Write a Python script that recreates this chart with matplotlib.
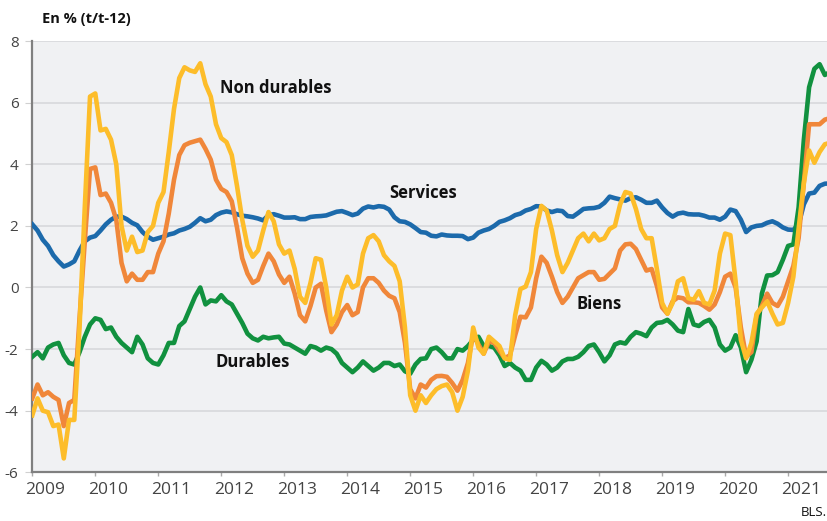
import matplotlib
matplotlib.use("Agg")
import matplotlib.pyplot as plt
import numpy as np

# Monthly data, Jan 2009 onwards (y/y-12, %)
services = [2.05, 1.85, 1.55, 1.35, 1.05, 0.85, 0.68, 0.75, 0.85, 1.2,
            1.5, 1.62, 1.67, 1.85, 2.05, 2.2, 2.3, 2.3, 2.22, 2.1,
            2.02, 1.8, 1.65, 1.55, 1.6, 1.65, 1.72, 1.76, 1.85, 1.9,
            1.97, 2.1, 2.25, 2.15, 2.2, 2.35, 2.43, 2.47, 2.44, 2.38,
            2.33, 2.31, 2.28, 2.24, 2.18, 2.35, 2.38, 2.33, 2.27, 2.27,
            2.28, 2.22, 2.22, 2.29, 2.31, 2.32, 2.34, 2.4, 2.46, 2.48,
            2.42, 2.35, 2.4, 2.56, 2.63, 2.6, 2.64, 2.62, 2.53, 2.28,
            2.15, 2.13, 2.05, 1.93, 1.8, 1.78, 1.68, 1.66, 1.72, 1.69,
            1.68, 1.68, 1.67, 1.57, 1.62, 1.78, 1.85, 1.9, 2.0, 2.13,
            2.18, 2.25, 2.35, 2.4, 2.5, 2.55, 2.64, 2.63, 2.5, 2.45,
            2.5, 2.48, 2.32, 2.3, 2.42, 2.55, 2.57, 2.58, 2.62, 2.75,
            2.95, 2.9, 2.86, 2.82, 2.9, 2.93, 2.85, 2.75, 2.75, 2.82,
            2.6, 2.42, 2.3, 2.4, 2.43, 2.38, 2.37, 2.37, 2.33, 2.27,
            2.27, 2.2, 2.3, 2.53, 2.48, 2.2, 1.8, 1.95, 2.0, 2.02,
            2.1, 2.15, 2.07, 1.95, 1.88, 1.87, 2.05, 2.7, 3.05, 3.08,
            3.3, 3.37, 3.38]

durables = [-2.25, -2.1, -2.3, -1.95, -1.85, -1.8, -2.2, -2.45, -2.5, -2.1,
            -1.6, -1.2, -1.0, -1.05, -1.35, -1.3, -1.6, -1.8, -1.95, -2.1,
            -1.6, -1.85, -2.3, -2.45, -2.5, -2.2, -1.8, -1.8, -1.25, -1.1,
            -0.7, -0.3, 0.0, -0.55, -0.42, -0.45, -0.25, -0.45, -0.55, -0.85,
            -1.15, -1.5, -1.65, -1.72, -1.6, -1.65, -1.62, -1.6, -1.82, -1.85,
            -1.95, -2.05, -2.15, -1.9, -1.95, -2.05, -1.95, -2.0, -2.15, -2.45,
            -2.6, -2.75, -2.6, -2.4, -2.55, -2.7, -2.6, -2.45, -2.45, -2.55,
            -2.5, -2.72, -2.8, -2.5, -2.32, -2.3, -2.0, -1.95, -2.1, -2.3,
            -2.3, -2.0, -2.05, -1.9, -1.7, -1.6, -1.9, -1.9, -1.95, -2.2,
            -2.55, -2.45, -2.6, -2.7, -3.0, -3.0, -2.6, -2.38, -2.5, -2.7,
            -2.6, -2.4, -2.32, -2.32, -2.25, -2.1, -1.9, -1.85, -2.1, -2.4,
            -2.2, -1.85, -1.78, -1.82, -1.6, -1.45, -1.5, -1.58, -1.3, -1.15,
            -1.13, -1.05, -1.2, -1.4, -1.45, -0.7, -1.2, -1.25, -1.12, -1.05,
            -1.3, -1.85, -2.05, -1.95, -1.55, -1.95, -2.75, -2.35, -1.75, -0.2,
            0.39, 0.4, 0.5, 0.9, 1.35, 1.4, 2.6, 4.8, 6.5, 7.1,
            7.25, 6.9, 7.0]

biens = [-3.6, -3.15, -3.5, -3.4, -3.55, -3.65, -4.5, -3.75, -3.65, -1.0,
         1.5, 3.85, 3.9, 3.0, 3.05, 2.75, 2.2, 0.8, 0.2, 0.45,
         0.25, 0.25, 0.5, 0.5, 1.1, 1.5, 2.4, 3.5, 4.3, 4.62,
         4.7, 4.75, 4.8, 4.5, 4.15, 3.5, 3.2, 3.1, 2.8, 1.95,
         0.95, 0.45, 0.15, 0.25, 0.7, 1.1, 0.85, 0.42, 0.15, 0.35,
         -0.2, -0.9, -1.1, -0.6, 0.0, 0.12, -0.75, -1.45, -1.2, -0.8,
         -0.57, -0.9, -0.8, 0.0, 0.3, 0.3, 0.15, -0.1, -0.27, -0.35,
         -0.8, -1.8, -3.3, -3.6, -3.15, -3.25, -3.0, -2.88, -2.87, -2.9,
         -3.1, -3.35, -3.0, -2.45, -1.5, -1.85, -2.15, -1.75, -1.8, -2.05,
         -2.3, -2.2, -1.55, -0.95, -0.97, -0.65, 0.3, 1.0, 0.8, 0.35,
         -0.15, -0.5, -0.3, 0.0, 0.3, 0.4, 0.5, 0.5, 0.25, 0.28,
         0.45, 0.62, 1.2, 1.4, 1.42, 1.25, 0.9, 0.55, 0.6, 0.05,
         -0.65, -0.85, -0.45, -0.32, -0.35, -0.48, -0.48, -0.5, -0.6, -0.72,
         -0.55, -0.15, 0.35, 0.45, 0.0, -1.3, -2.25, -2.1, -0.9, -0.6,
         -0.2, -0.5, -0.6, -0.3, 0.2, 0.7, 1.6, 3.4, 5.3, 5.3,
         5.3, 5.45, 5.5]

non_durables = [-4.15, -3.6, -4.0, -4.05, -4.5, -4.45, -5.55, -4.3, -4.3, -1.3,
                2.6, 6.2, 6.3, 5.1, 5.15, 4.8, 4.0, 2.0, 1.2, 1.65,
                1.15, 1.2, 1.8, 2.0, 2.75, 3.1, 4.4, 5.8, 6.8, 7.15,
                7.05, 7.0, 7.28, 6.6, 6.2, 5.3, 4.85, 4.72, 4.3, 3.3,
                2.2, 1.35, 1.0, 1.2, 1.85, 2.45, 2.15, 1.4, 1.1, 1.2,
                0.6, -0.3, -0.5, 0.15, 0.95, 0.9, 0.0, -1.2, -0.9, -0.1,
                0.35, 0.0, 0.1, 1.1, 1.6, 1.7, 1.5, 1.05, 0.85, 0.7,
                0.2, -1.3, -3.5, -4.0, -3.5, -3.75, -3.5, -3.3, -3.2, -3.15,
                -3.4, -4.0, -3.55, -2.7, -1.3, -1.95, -2.15, -1.6, -1.75, -1.9,
                -2.3, -2.35, -0.9, -0.05, 0.03, 0.5, 1.9, 2.65, 2.5, 1.85,
                1.05, 0.5, 0.8, 1.2, 1.6, 1.75, 1.5, 1.75, 1.53, 1.6,
                1.9, 2.0, 2.7, 3.1, 3.05, 2.55, 1.9, 1.6, 1.6, 0.6,
                -0.5, -0.85, -0.5, 0.2, 0.3, -0.35, -0.4, -0.12, -0.5, -0.55,
                -0.1, 1.1, 1.75, 1.7, 0.2, -1.7, -2.3, -1.8, -0.85, -0.65,
                -0.45, -0.85, -1.2, -1.15, -0.5, 0.35, 1.9, 3.4, 4.45, 4.05,
                4.4, 4.65, 4.7]

years = [str(y) for y in range(2009, 2022)]
months = np.arange(len(services))

plt.rcParams['font.family'] = ['Open Sans', 'DejaVu Sans']

fig = plt.figure(figsize=(8.28, 5.21), dpi=100)
ax = fig.add_axes([0.039, 0.0935, 0.961, 0.8276])
ax.set_facecolor('#f0f1f3')

lw = 3.3
ax.plot(months, services, color='#1c6aab', lw=lw, zorder=3, solid_joinstyle='round')
ax.plot(months, durables, color='#11913f', lw=lw, zorder=4, solid_joinstyle='round')
ax.plot(months, biens, color='#f0873a', lw=lw, zorder=5, solid_joinstyle='round')
ax.plot(months, non_durables, color='#fdbd2a', lw=lw, zorder=6, solid_joinstyle='round')

ax.set_xlim(0, 151.6)
ax.set_ylim(-6, 8)

# y axis
ax.set_yticks(np.arange(-6, 9, 2))
ax.set_yticklabels([str(v) for v in range(-6, 9, 2)])
ax.yaxis.grid(True, color='#d9dadd', lw=1.3)
ax.set_axisbelow(True)
ax.tick_params(axis='y', length=5, color='#d0d0d0', pad=5, labelsize=11, labelcolor='#444444')

# x axis: year ticks at January, labels slightly shifted
ax.set_xticks(np.arange(0, 12 * len(years), 12))
ax.set_xticklabels([])
ax.tick_params(axis='x', which='major', length=3, color='#aaaaaa', width=1)
ax.set_xticks(np.arange(0, 12 * len(years), 12) + 2.4, minor=True)
ax.set_xticklabels(years, minor=True)
ax.tick_params(axis='x', which='minor', length=0, pad=7, labelsize=12.5, labelcolor='#444444')

for s in ['top', 'right']:
    ax.spines[s].set_visible(False)
for s in ['left', 'bottom']:
    ax.spines[s].set_color('#808080')
    ax.spines[s].set_linewidth(1.6)

lab = dict(fontsize=12, fontweight='bold', color='#111111', va='baseline', ha='left', zorder=10)
ax.text(35.75, 6.3, 'Non durables', **lab)
ax.text(68.1, 2.89, 'Services', **lab)
ax.text(103.6, -0.71, 'Biens', **lab)
ax.text(35.0, -2.58, 'Durables', **lab)

fig.text(41.7 / 828, 1 - 19 / 521, 'En % (t/t-12)', fontsize=10.5, fontweight='bold',
         color='#111111', ha='left', va='center')
fig.text(827 / 828, 1 - 512 / 521, 'BLS.', fontsize=9.5, color='#111111', ha='right', va='center')

fig.savefig('out.png', dpi=100)
